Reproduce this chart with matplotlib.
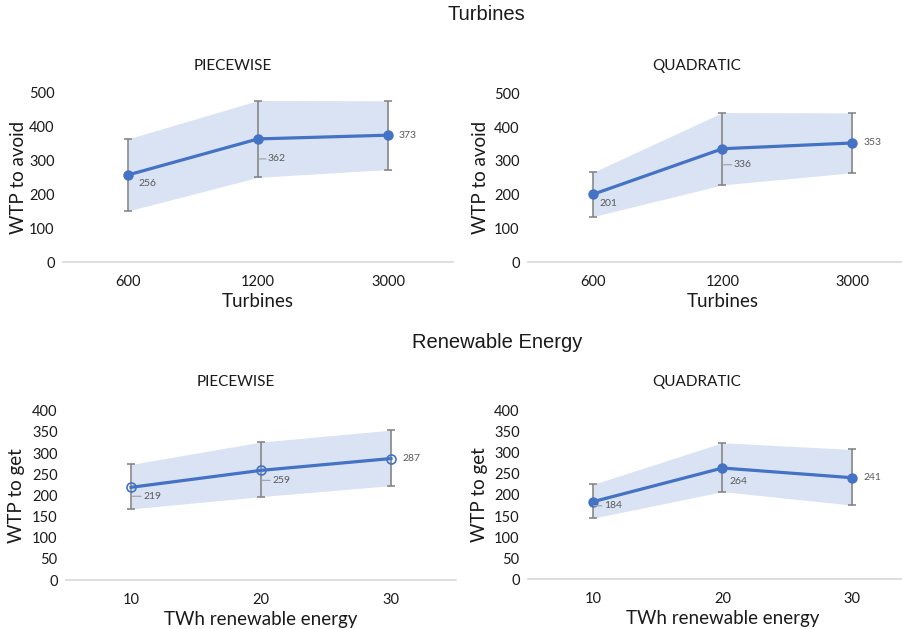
import matplotlib
matplotlib.use("Agg")
import matplotlib.pyplot as plt
from matplotlib.transforms import offset_copy

# data
turb_cats = ["600", "1200", "3000"]
turb_pw = [256, 362, 373]
turb_pw_lo = [150, 249, 272]
turb_pw_hi = [362, 475, 474]
turb_q = [201, 336, 353]
turb_q_lo = [135, 229, 265]
turb_q_hi = [266, 443, 442]

ren_cats = ["10", "20", "30"]
ren_pw = [219, 259, 287]
ren_pw_lo = [168, 197, 223]
ren_pw_hi = [273, 326, 354]
ren_q = [184, 264, 241]
ren_q_lo = [145, 208, 176]
ren_q_hi = [225, 324, 308]

BLUE = "#4472C4"
BAND = "#DAE3F3"
GREY = "#7F7F7F"
FONT = "Lato"

W, H = 903, 629
fig = plt.figure(figsize=(W / 100, H / 100), dpi=100)


def box(left, right, bottom_px, top_px):
    return [left / W, 1 - bottom_px / H, (right - left) / W, (bottom_px - top_px) / H]


def panel(rect, cats, vals, lo, hi, ymax, ystep, ylabel, xlabel, labels, hollow=False):
    ax = fig.add_axes(rect)
    x = list(range(len(cats)))
    ax.fill_between(x, lo, hi, color=BAND, lw=0, zorder=1)
    err = [[v - l for v, l in zip(vals, lo)], [h - v for v, h in zip(vals, hi)]]
    ax.errorbar(x, vals, yerr=err, fmt="none", ecolor=GREY, elinewidth=1.1,
                capsize=3, capthick=1.1, zorder=2)
    ax.plot(x, vals, color=BLUE, lw=2.3, zorder=3, marker="o", markersize=6.5,
            markerfacecolor="none" if hollow else BLUE, markeredgecolor=BLUE,
            markeredgewidth=1.2 if hollow else 1)
    for i, v in enumerate(vals):
        dx, dy, lead = labels[i]
        ax.annotate(str(v), (i, v), xytext=(dx, -dy), textcoords="offset pixels",
                    ha="left", va="center", fontsize=7.5, color="#595959",
                    family=FONT, zorder=4)
        if lead:
            tr = offset_copy(ax.transData, fig=fig, x=1, y=-dy, units="dots")
            ax.annotate("", xy=(i, v), xycoords=tr, xytext=(dx - 3, 0),
                        textcoords="offset pixels",
                        arrowprops=dict(arrowstyle="-", color="#A6A6A6", lw=0.9,
                                        shrinkA=0, shrinkB=0))
    ax.set_xlim(-0.5, len(cats) - 0.5)
    ax.set_ylim(0, ymax)
    ax.set_yticks(range(0, ymax + 1, ystep))
    ax.set_xticks(x)
    ax.set_xticklabels(cats)
    for s in ("top", "right", "left"):
        ax.spines[s].set_visible(False)
    ax.spines["bottom"].set_color("#D9D9D9")
    ax.spines["bottom"].set_linewidth(1.2)
    ax.tick_params(axis="both", length=0, labelsize=10.5, labelcolor="#1A1A1A")
    ax.tick_params(axis="y", pad=6)
    ax.tick_params(axis="x", pad=9)
    for t in ax.get_xticklabels() + ax.get_yticklabels():
        t.set_family(FONT)
    ax.set_xlabel(xlabel, fontsize=13.5, family=FONT, color="#1A1A1A", labelpad=3)
    ax.set_ylabel(ylabel, fontsize=13.5, family=FONT, color="#1A1A1A", labelpad=4)
    ax.patch.set_alpha(0)
    return ax


ax1 = panel(box(63, 453, 262, 92), turb_cats, turb_pw, turb_pw_lo, turb_pw_hi,
            500, 100, "WTP to avoid", "Turbines",
            [(10, 9, False), (10, 20, True), (11, 0, False)])
ax2 = panel(box(528, 917, 262.3, 93.3), turb_cats, turb_q, turb_q_lo, turb_q_hi,
            500, 100, "WTP to avoid", "Turbines",
            [(7, 9, False), (11, 16, True), (11, 0, False)])
ax3 = panel(box(66, 456, 580, 410.7), ren_cats, ren_pw, ren_pw_lo, ren_pw_hi,
            400, 50, "WTP to get", "TWh renewable energy",
            [(12, 9, True), (11, 10, True), (11, 0, False)], hollow=True)
ax4 = panel(box(528, 917, 579.3, 410.7), ren_cats, ren_q, ren_q_lo, ren_q_hi,
            400, 50, "WTP to get", "TWh renewable energy",
            [(11, 4, True), (7, 13, False), (11, 0, False)])

# y labels: coords give the right edge of the rotated text
ax1.yaxis.set_label_coords(-(63 - 27) / 390, 0.5)
ax2.yaxis.set_label_coords(-(528 - 489) / 389, 0.5)
ax3.yaxis.set_label_coords(-(66 - 25) / 390, 0.5)
ax4.yaxis.set_label_coords(-(528 - 488) / 389, 0.5)

fig.text(486 / W, 1 - 14 / H, "Turbines", ha="center", va="center",
         fontsize=14.5, family="Liberation Sans", color="#1A1A1A")
fig.text(497 / W, 1 - 342 / H, "Renewable Energy", ha="center", va="center",
         fontsize=14.5, family="Liberation Sans", color="#1A1A1A")

for xp, yp, txt in [(233, 66, "PIECEWISE"), (697, 66, "QUADRATIC"),
                    (236, 382, "PIECEWISE"), (697, 382, "QUADRATIC")]:
    fig.text(xp / W, 1 - yp / H, txt, ha="center", va="center",
             fontsize=11, family=FONT, color="#1A1A1A")

fig.savefig("out.png", dpi=100)
